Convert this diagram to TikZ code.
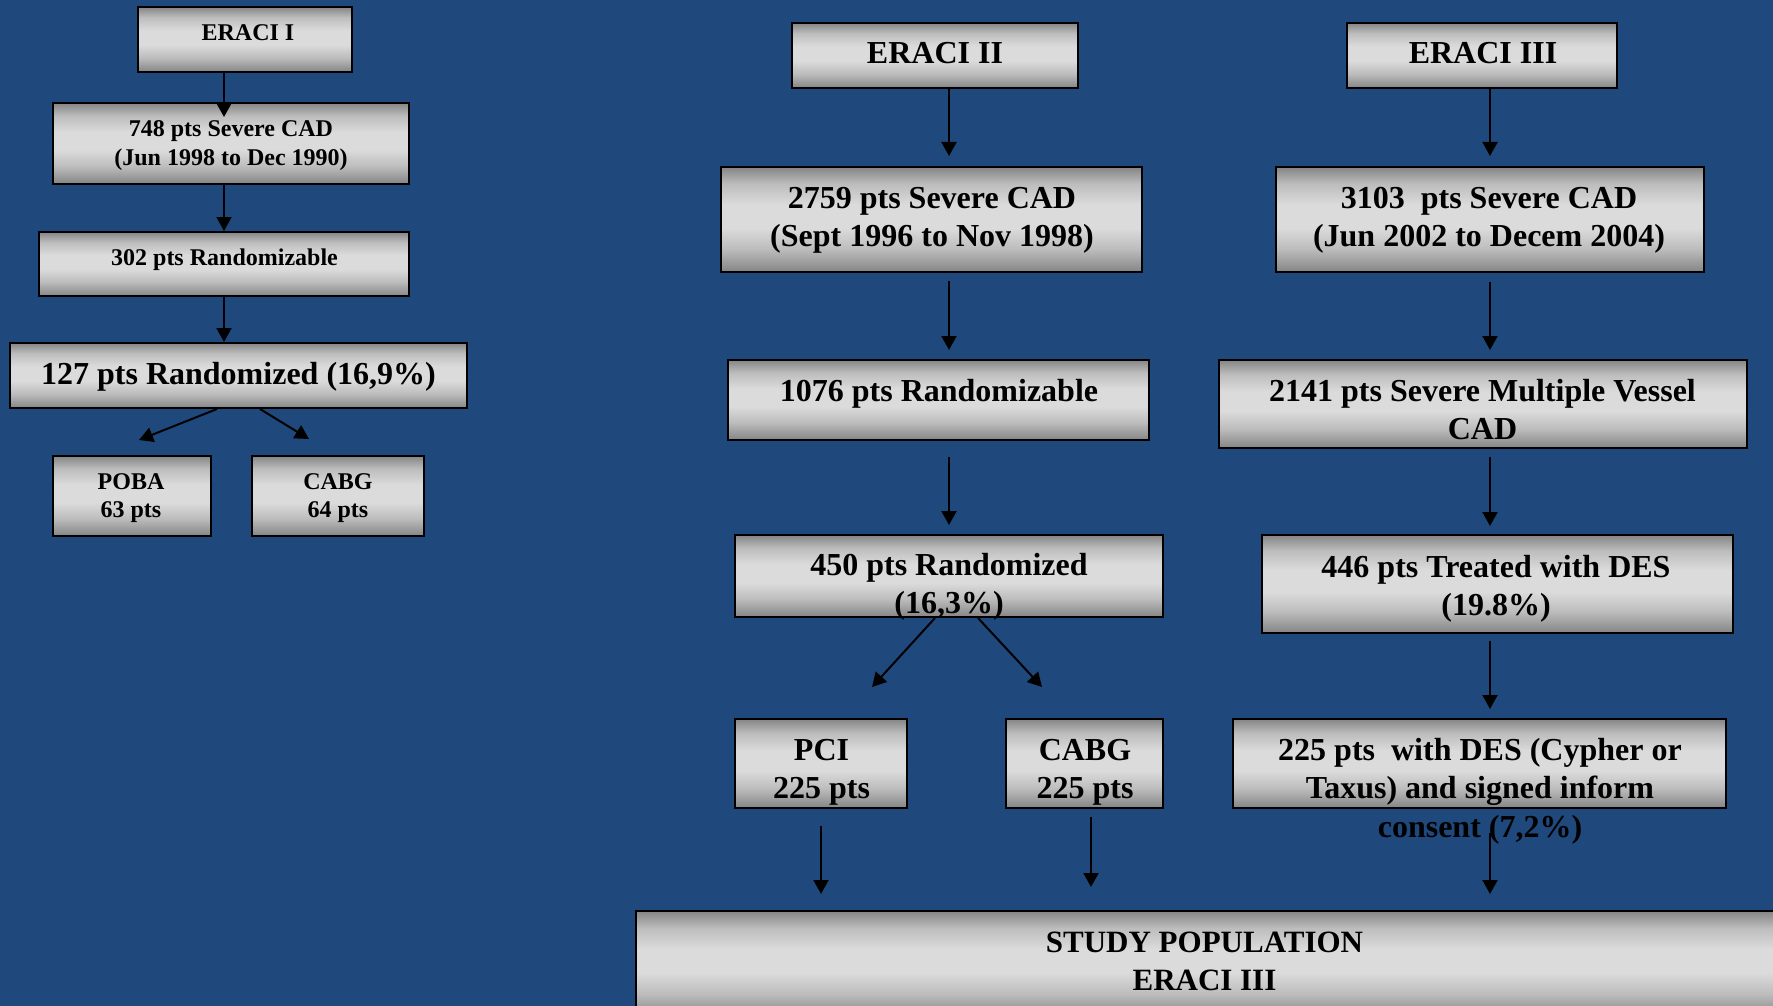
\documentclass[tikz,border=0pt]{standalone}
\usepackage{fontspec}
\setmainfont{Liberation Serif}
\usetikzlibrary{arrows.meta,calc}
\definecolor{bgblue}{RGB}{31,73,125}
\definecolor{gdark}{gray}{0.52}
\definecolor{gmid}{gray}{0.74}
\definecolor{glight}{gray}{0.86}
\pgfdeclareverticalshading{boxshade}{100bp}{color(0bp)=(gdark); color(25bp)=(gdark); color(36bp)=(gmid); color(46bp)=(glight); color(57bp)=(glight); color(67bp)=(gmid); color(75bp)=(gdark); color(100bp)=(gdark)}
\newcommand{\lns}[1]{\begin{tabular}[t]{@{}c@{}}#1\end{tabular}}
\begin{document}
\begin{tikzpicture}[x=1pt,y=-1pt,
  boxst/.style={draw=black, line width=2pt, shade, shading=boxshade, inner sep=0pt, rectangle},
  txtS/.style={font=\bfseries\fontsize{24}{28.5}\selectfont, inner sep=0pt, anchor=base, text=black},
  txtL/.style={font=\bfseries\fontsize{32}{38.5}\selectfont, inner sep=0pt, anchor=base, text=black},
  txtB/.style={font=\bfseries\fontsize{31}{38}\selectfont, inner sep=0pt, anchor=base, text=black},
  arr/.style={line width=2pt, draw=black, -{Triangle[width=15pt,length=14pt]}}]
\useasboundingbox (0,0) rectangle (1773,1006);
\clip (0,0) rectangle (1773,1006);
\fill[bgblue] (0,0) rectangle (1773,1006);

% ---- boxes: ERACI I column
\node[boxst, minimum width=214pt, minimum height=65pt] (e1) at (245,39.5) {};
\node[boxst, minimum width=356pt, minimum height=81pt] (b748) at (231,143.5) {};
\node[boxst, minimum width=370pt, minimum height=64pt] (b302) at (224,264) {};
\node[boxst, minimum width=457pt, minimum height=65pt] (b127) at (238.5,375.5) {};
\node[boxst, minimum width=158pt, minimum height=80pt] (poba) at (132,496) {};
\node[boxst, minimum width=172pt, minimum height=80pt] (cabga) at (338,496) {};
% ---- ERACI II column
\node[boxst, minimum width=286pt, minimum height=65pt] (e2) at (935,55.5) {};
\node[boxst, minimum width=421pt, minimum height=105pt] (b2759) at (931.5,219.5) {};
\node[boxst, minimum width=421pt, minimum height=80pt] (b1076) at (938.5,400) {};
\node[boxst, minimum width=428pt, minimum height=82pt] (b450) at (949,576) {};
\node[boxst, minimum width=172pt, minimum height=89pt] (pci) at (821,763.5) {};
\node[boxst, minimum width=157pt, minimum height=89pt] (cabgb) at (1084.5,763.5) {};
% ---- ERACI III column
\node[boxst, minimum width=270pt, minimum height=65pt] (e3) at (1482,55.5) {};
\node[boxst, minimum width=428pt, minimum height=105pt] (b3103) at (1490,219.5) {};
\node[boxst, minimum width=528pt, minimum height=88pt] (b2141) at (1483,404) {};
\node[boxst, minimum width=471pt, minimum height=98pt] (b446) at (1497.5,584) {};
\node[boxst, minimum width=493pt, minimum height=89pt] (b225) at (1479.5,763.5) {};
% ---- study population
\node[boxst, minimum width=1139pt, minimum height=106pt] (study) at (1205.5,964) {};

% ---- free ends
\coordinate (tipPOBA) at (139,440);
\coordinate (tipCABGa) at (309,439);
\coordinate (tipPCI) at (872,687);
\coordinate (tipCABGb) at (1042,687);

% ---- arrows ERACI I
\draw[arr] (e1.south -| b302.center) -- ($(b748.north -| b302.center)+(0,15)$);
\draw[arr] (b748.south -| b302.center) -- (b302.north);
\draw[arr] (b302.south) -- (b127.north -| b302.center);
\draw[arr] ($(b127.south)+(-21.5,0)$) -- (tipPOBA);
\draw[arr] ($(b127.south)+(21.5,0)$) -- (tipCABGa);
% ---- arrows ERACI II
\draw[arr] (e2.south -| b450.center) -- ($(b2759.north -| b450.center)+(0,-10)$);
\draw[arr] ($(b2759.south -| b450.center)+(0,8)$) -- ($(b1076.north -| b450.center)+(0,-9)$);
\draw[arr] ($(b1076.south -| b450.center)+(0,16)$) -- ($(b450.north)+(0,-9)$);
\draw[arr] ($(b450.south)+(-14,0)$) -- (tipPCI);
\draw[arr] ($(b450.south)+(29,0)$) -- (tipCABGb);
\draw[arr] ($(pci.south)+(0,17)$) -- ($(study.north -| pci.south)+(0,-16)$);
\draw[arr] ($(cabgb.south)+(6.5,8)$) -- ($(study.north -| cabgb.south)+(6.5,-23)$);
% ---- arrows ERACI III
\draw[arr] (e3.south -| b3103.center) -- ($(b3103.north)+(0,-10)$);
\draw[arr] ($(b3103.south)+(0,9)$) -- ($(b2141.north -| b3103.center)+(0,-9)$);
\draw[arr] ($(b2141.south -| b3103.center)+(0,8)$) -- ($(b446.north -| b3103.center)+(0,-8)$);
\draw[arr] ($(b446.south -| b3103.center)+(0,7)$) -- ($(b225.north -| b3103.center)+(0,-9)$);
\draw[arr] ($(b225.south -| b3103.center)+(0,24)$) -- ($(study.north -| b3103.center)+(0,-16)$);

% ---- texts
\node[txtS] (te1) at (248,41) {ERACI I};
\node[txtS] (t748) at (231,137) {\lns{748 pts Severe CAD\\(Jun 1998 to Dec 1990)}};
\node[txtS] (t302) at (224.5,265) {302 pts Randomizable};
\node[txtL] (t127) at (238.5,384) {127 pts Randomized (16,9\%)};
\node[txtS] (tpoba) at (131,489) {\lns{POBA\\63 pts}};
\node[txtS] (tcabga) at (338,489) {\lns{CABG\\64 pts}};

\node[txtL] (te2) at (935,64) {ERACI II};
\node[txtL] (t2759) at (932,208) {\lns{2759 pts Severe CAD\\(Sept 1996 to Nov 1998)}};
\node[txtL] (t1076) at (939,401) {1076 pts Randomizable};
\node[txtL] (t450) at (949,575) {\lns{450 pts Randomized\\(16,3\%)}};
\node[txtL] (tpci) at (821.5,760) {\lns{PCI\\225 pts}};
\node[txtL] (tcabgb) at (1085,760) {\lns{CABG\\225 pts}};

\node[txtL] (te3) at (1483,64) {ERACI III};
\node[txtL] (t3103) at (1489,208) {\lns{3103~ pts Severe CAD\\(Jun 2002 to Decem 2004)}};
\node[txtL] (t2141) at (1482.5,401) {\lns{2141 pts Severe Multiple Vessel\\CAD}};
\node[txtL] (t446) at (1496,577) {\lns{446 pts Treated with DES\\(19.8\%)}};
\node[txtL] (t225) at (1480,760) {\lns{225 pts~ with DES (Cypher or\\Taxus) and signed inform\\consent (7,2\%)}};

\node[txtB] (tstudy) at (1204.5,952) {\lns{STUDY POPULATION\\ERACI III}};
\end{tikzpicture}
\end{document}
